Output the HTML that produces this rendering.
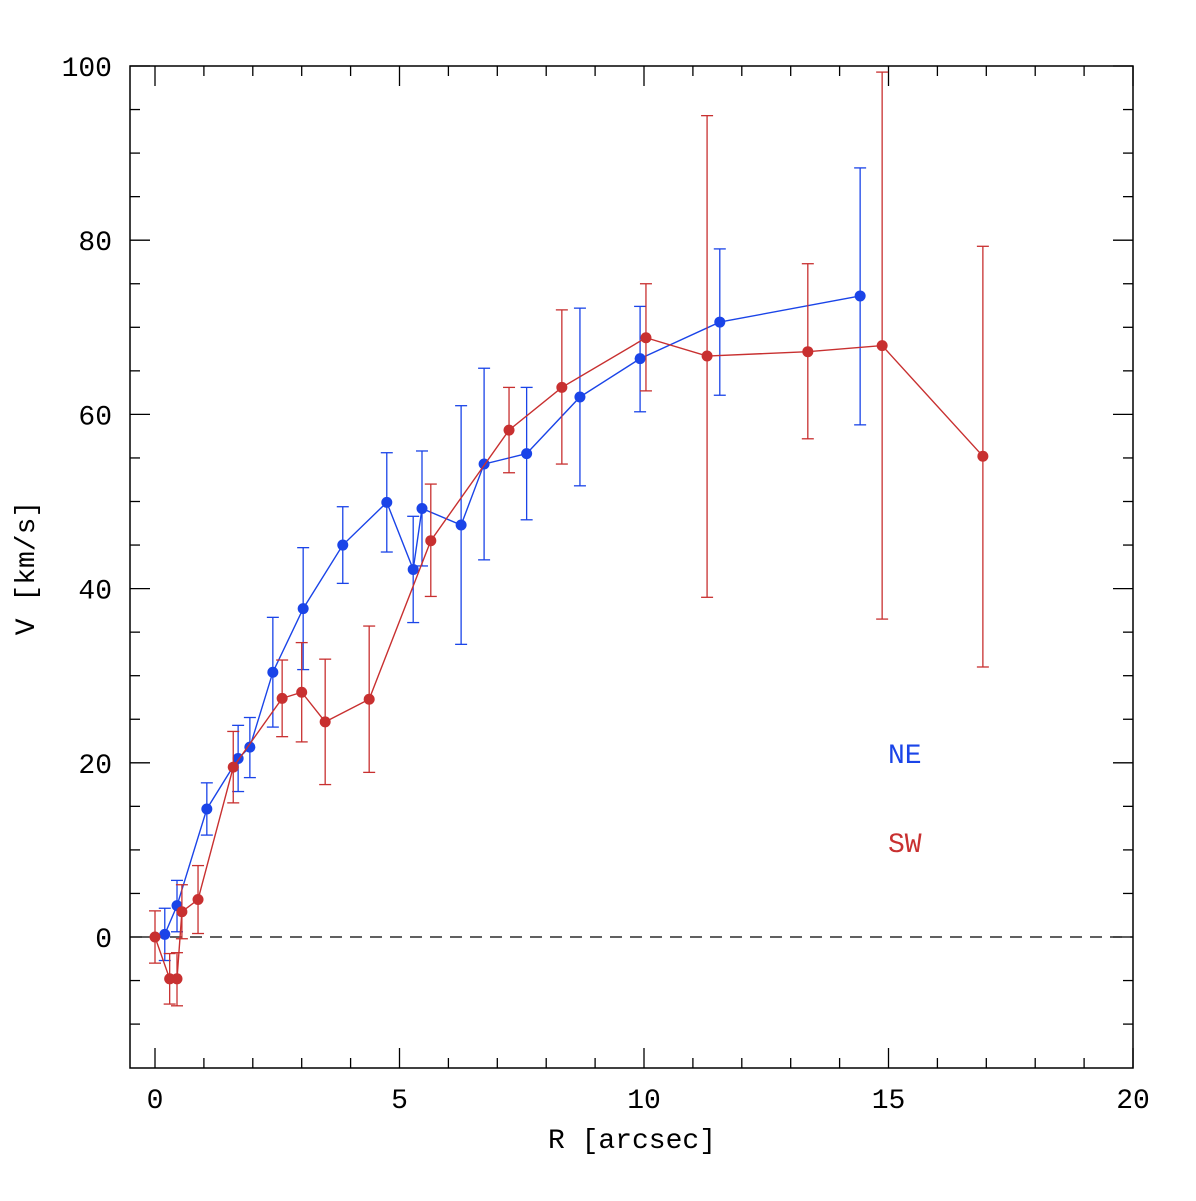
<!DOCTYPE html>
<html><head><meta charset="utf-8"><style>
body{margin:0;background:#fff}
svg text{font-family:"Liberation Mono",monospace;}
</style></head><body>
<svg id="chart" width="1196" height="1196" xmlns="http://www.w3.org/2000/svg">
<rect x="0" y="0" width="1196" height="1196" fill="#fff"/>
<g id="axes"></g><g id="marks"></g>
</svg>
<script>
const xTicks=[0,5,10,15,20];
const yTicks=[0,20,40,60,80,100];
const neR=[0.2,0.45,1.06,1.7,1.94,2.41,3.03,3.84,4.74,5.28,5.46,6.26,6.73,7.6,8.69,9.92,11.55,14.42];
const neV=[0.3,3.6,14.7,20.5,21.8,30.4,37.7,45.0,49.9,42.2,49.2,47.3,54.3,55.5,62.0,66.4,70.6,73.6];
const neLo=[-2.7,0.6,11.7,16.7,18.3,24.1,30.7,40.6,44.2,36.1,42.6,33.6,43.3,47.9,51.8,60.3,62.2,58.8];
const neHi=[3.3,6.5,17.7,24.3,25.2,36.7,44.7,49.4,55.6,48.3,55.8,61.0,65.3,63.1,72.2,72.4,79.0,88.3];
const swR=[0,0.3,0.45,0.55,0.88,1.6,2.6,3.0,3.48,4.38,5.64,7.24,8.32,10.04,11.29,13.35,14.87,16.93];
const swV=[0,-4.8,-4.8,2.9,4.3,19.5,27.4,28.1,24.7,27.3,45.5,58.2,63.1,68.8,66.7,67.2,67.9,55.2];
const swLo=[-3,-7.7,-7.9,-0.2,0.4,15.4,23.0,22.4,17.5,18.9,39.1,53.3,54.3,62.7,39.0,57.2,36.5,31.0];
const swHi=[3,-1.9,-1.8,6.0,8.2,23.6,31.8,33.8,31.9,35.7,52.0,63.1,72.0,75.0,94.3,77.3,99.3,79.3];

const L=130,R=1133,T=66,B=1068;
const X=v=>155+v*48.9;
const Y=v=>937-v*8.71;
const NS="http://www.w3.org/2000/svg";
function mk(tag,attrs,parent){const e=document.createElementNS(NS,tag);for(const k in attrs)e.setAttribute(k,attrs[k]);parent.appendChild(e);return e;}
const ax=document.getElementById('axes'),mg=document.getElementById('marks');
const frame=mk('rect',{x:L,y:T,width:R-L,height:B-T,fill:'none',stroke:'#000','stroke-width':1.5},ax);


for(let v=0;v<=20;v++){const x=X(v),len=v%5===0?20:10;
 mk('line',{x1:x,y1:B,x2:x,y2:B-len,stroke:'#000','stroke-width':1.3},ax);
 mk('line',{x1:x,y1:T,x2:x,y2:T+len,stroke:'#000','stroke-width':1.3},ax);}
for(let v=-10;v<=100;v+=5){const y=Y(v),len=v%20===0?20:10;
 mk('line',{x1:L,y1:y,x2:L+len,y2:y,stroke:'#000','stroke-width':1.3},ax);
 mk('line',{x1:R,y1:y,x2:R-len,y2:y,stroke:'#000','stroke-width':1.3},ax);}
xTicks.forEach(v=>{const t=mk('text',{x:X(v),y:1108,'text-anchor':'middle','font-size':28},ax);t.textContent=v;
 
 });
yTicks.forEach(v=>{const t=mk('text',{x:112,y:Y(v)+10,'text-anchor':'end','font-size':28},ax);t.textContent=v;
 
 });
const xt=mk('text',{x:632,y:1148,'text-anchor':'middle','font-size':28},ax);xt.textContent='R [arcsec]';


const yt=mk('text',{x:0,y:0,'text-anchor':'middle','font-size':28,transform:'translate(34,568) rotate(-90)'},ax);yt.textContent='V [km/s]';


const zl=mk('line',{x1:L,y1:Y(0),x2:R,y2:Y(0),stroke:'#000','stroke-width':1.3,'stroke-dasharray':'12,8'},ax);


function series(r,v,lo,hi,col,name){
 const g=mk('g',{},mg);
 
 
 mk('polyline',{points:r.map((x,i)=>X(x)+','+Y(v[i])).join(' '),fill:'none',stroke:col,'stroke-width':1.4},g);
 r.forEach((x,i)=>{const px=X(x);
  mk('line',{x1:px,y1:Y(lo[i]),x2:px,y2:Y(hi[i]),stroke:col,'stroke-width':1.3},g);
  mk('line',{x1:px-6,y1:Y(lo[i]),x2:px+6,y2:Y(lo[i]),stroke:col,'stroke-width':1.3},g);
  mk('line',{x1:px-6,y1:Y(hi[i]),x2:px+6,y2:Y(hi[i]),stroke:col,'stroke-width':1.3},g);
  const c=mk('circle',{cx:px,cy:Y(v[i]),r:5.5,fill:col},g);
  
  });
}
series(neR,neV,neLo,neHi,'#1a44e8','ne');
series(swR,swV,swLo,swHi,'#c83030','sw');
const l1=mk('text',{x:888,y:763,'font-size':28,fill:'#1a44e8'},ax);l1.textContent='NE';


const l2=mk('text',{x:888,y:852,'font-size':28,fill:'#c83030'},ax);l2.textContent='SW';


</script>
</body></html>
